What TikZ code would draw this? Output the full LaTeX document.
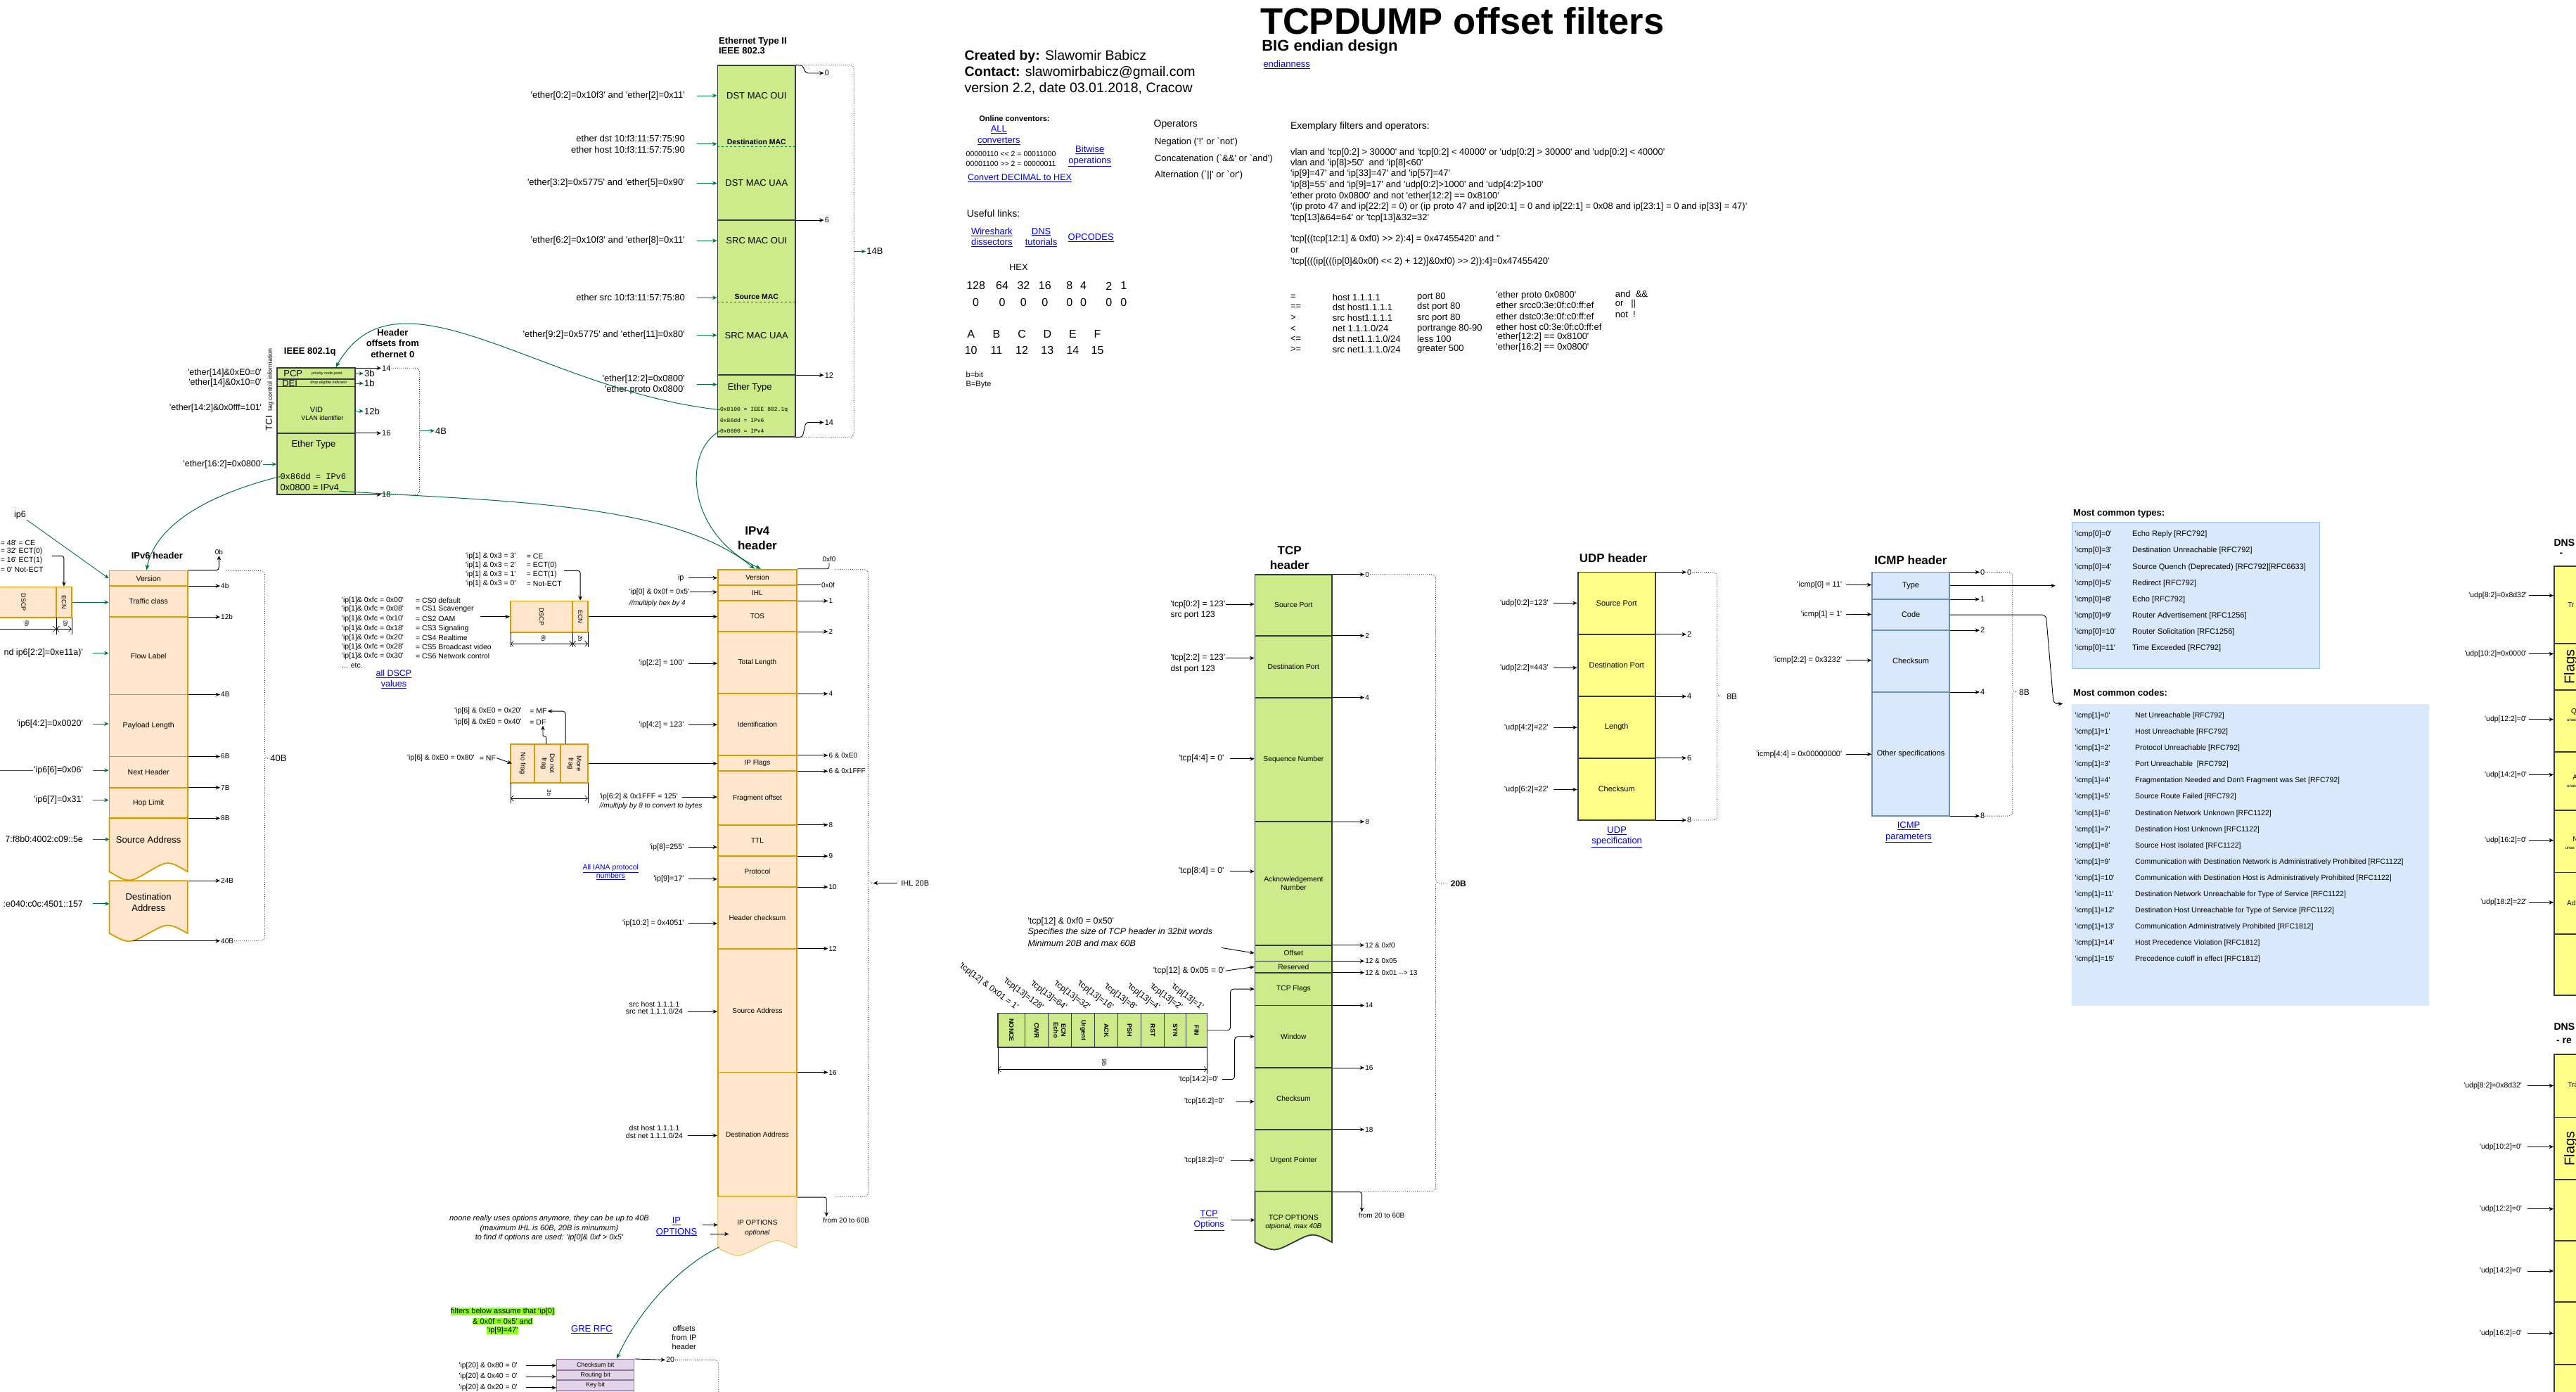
\documentclass[tikz,border=0pt]{standalone}
\usepackage{fontspec}
\setmainfont{Liberation Sans}[Ligatures=TeXOff]
\setmonofont{Liberation Mono}
\usepackage{xcolor}
\usetikzlibrary{arrows.meta, positioning, calc, fit}

% colours of the header boxes
\definecolor{grfill}{HTML}{CDEB8B}
\definecolor{orfill}{HTML}{FFE6CC}
\definecolor{ordraw}{HTML}{D79B00}
\definecolor{yefill}{HTML}{FFFF88}
\definecolor{blfill}{HTML}{DAE8FC}
\definecolor{bldraw}{HTML}{6C8EBF}
\definecolor{pufill}{HTML}{E1D5E7}
\definecolor{pudraw}{HTML}{9673A6}
\definecolor{boxedge}{HTML}{36393D}
\definecolor{garrow}{HTML}{00733A}
\definecolor{linkblue}{HTML}{0000EE}
\definecolor{hilite}{HTML}{8CFF1A}
\definecolor{listedge}{HTML}{99C2F0}

\newcommand{\fs}[1]{\fontsize{#1pt}{\the\dimexpr #1pt*6/5\relax}\selectfont}
\newcommand{\lnk}[1]{\textcolor{linkblue}{\underline{#1}}}

\begin{document}
\begin{tikzpicture}[x=2.336pt, y=-2.336pt, inner sep=1pt,
    arr/.style={-{Stealth[length=6.5pt,width=5.5pt]}, line width=0.9pt},
    garr/.style={arr, draw=garrow},
    gcurve/.style={-{Stealth[length=8pt,width=6pt]}, line width=1pt, draw=garrow},
    brace/.style={dotted, line width=0.8pt, rounded corners=6pt},
    dimline/.style={{Straight Barb[length=4pt]}-{Straight Barb[length=4pt]}, line width=0.6pt},
    grbox/.style={draw=boxedge, fill=grfill, line width=1.8pt, inner sep=0pt},
    orbox/.style={draw=ordraw, fill=orfill, line width=1.8pt, inner sep=0pt},
    yebox/.style={draw=boxedge, fill=yefill, line width=1.8pt, inner sep=0pt},
    blbox/.style={draw=bldraw, fill=blfill, line width=1.8pt, inner sep=0pt},
    pubox/.style={draw=pudraw, fill=pufill, line width=1.4pt, inner sep=0pt},
    listbox/.style={fill=blfill, draw=listedge, line width=1pt, inner sep=0pt},
    hdr/.style={font=\bfseries\fs{17}, align=center},
    off/.style={font=\fs{10.5}, anchor=west},
  ]
  \fill[white] (0,0) rectangle (1568,847);
  \useasboundingbox (0,0) rectangle (1568,847);

  % Title and author
  \node[font=\bfseries\fs{52.5}, anchor=base west, inner sep=0pt] (title) at (767,20.7) {TCPDUMP offset filters};
  \node[font=\bfseries\fs{22}, anchor=base west, inner sep=0pt] (subtitle) at (768,31) {BIG endian design};
  \node[font=\fs{13}, anchor=west] (endian) at (768.5,39.2) {\lnk{endianness}};
  \node[font=\fs{19.5}, anchor=base west, inner sep=0pt] (author) at (587,36.4) {\textbf{Created by:} Slawomir Babicz};
  \node[font=\fs{19.5}, anchor=base west, inner sep=0pt] (contact) at (587,46.4) {\textbf{Contact:} slawomirbabicz@gmail.com};
  \node[font=\fs{19.5}, anchor=base west, inner sep=0pt] (version) at (587,56.1) {version 2.2, date 03.01.2018, Cracow};

  % Converters and links
  \node[font=\bfseries\fs{11}, anchor=west] (onconv) at (595.5,72) {Online conventors:};
  \node[font=\fs{13}, align=center] (allconv) at (608,82.2) {\lnk{ALL}\\\lnk{converters}};
  \node[font=\fs{10.5}, anchor=west] (shl) at (587.5,93.8) {00000110 << 2 = 00011000};
  \node[font=\fs{10.5}, anchor=west] (shr) at (587.5,99.5) {00001100 >> 2 = 00000011};
  \node[font=\fs{13}, align=center] (bitw) at (663.4,95.2) {\lnk{Bitwise}\\\lnk{operations}};
  \node[font=\fs{12.7}, anchor=west] (dec2hex) at (588.5,108.4) {\lnk{Convert DECIMAL to HEX}};
  \node[font=\fs{14}, anchor=west] (opers) at (701.8,75.9) {Operators};
  \foreach [count=\i] \yy/\txt in {86.6/{Negation ('!' or `not')}, 96.6/{Concatenation (`\&\&' or `and')}, 106.5/{Alternation (`||' or `or')}}
    \node[font=\fs{13}, anchor=west] (oper\i) at (702.4,\yy) {\txt};
  \node[font=\fs{14}, anchor=west] (useful) at (588,129.9) {Useful links:};
  \node[font=\fs{13}, align=center] (wshark) at (603.7,144.4) {\lnk{Wireshark}\\\lnk{dissectors}};
  \node[font=\fs{13}, align=center] (dnstut) at (633.8,144.4) {\lnk{DNS}\\\lnk{tutorials}};
  \node[font=\fs{13}] (opcodes) at (664,144.8) {\lnk{OPCODES}};

  % HEX table
  \node[font=\fs{13}] (hex) at (620,162.7) {HEX};
  \foreach [count=\i] \xx/\txt in {594/128, 610/64, 623/32, 636/16, 651/8, 659.5/4, 675/2, 684/1} {
    \node[font=\fs{16}] (bit\i) at (\xx,174) {\txt};
    \node[font=\fs{16}] (zero\i) at (\xx,184) {0};
  }
  \foreach [count=\i] \xx/\txt/\val in {591/A/10, 606.5/B/11, 622/C/12, 637.5/D/13, 653/E/14, 668/F/15} {
    \node[font=\fs{16}] (hexl\i) at (\xx,203.5) {\txt};
    \node[font=\fs{16}] (hexv\i) at (\xx,213) {\val};
  }
  \node[font=\fs{11}, anchor=west] (bbit) at (587.5,228) {b=bit};
  \node[font=\fs{11}, anchor=west] (bbyte) at (587.5,234) {B=Byte};

  % Exemplary filters
  \node[font=\fs{14}, anchor=west] (exhead) at (785,76.8) {Exemplary filters and operators:};
  \foreach [count=\i] \yy/\txt in {
      93/{vlan and 'tcp[0:2] > 30000' and 'tcp[0:2] < 40000' or 'udp[0:2] > 30000' and 'udp[0:2] < 40000'},
      99.4/{vlan and 'ip[8]>50'\ \ and 'ip[8]<60'},
      106/{'ip[9]=47' and 'ip[33]=47' and 'ip[57]=47'},
      112.7/{'ip[8]=55' and 'ip[9]=17' and 'udp[0:2]>1000' and 'udp[4:2]>100'},
      119.3/{'ether proto 0x0800' and not 'ether[12:2] == 0x8100'},
      126/{'(ip proto 47 and ip[22:2] = 0) or (ip proto 47 and ip[20:1] = 0 and ip[22:1] = 0x08 and ip[23:1] = 0 and ip[33] = 47)'},
      132.6/{'tcp[13]\&64=64' or 'tcp[13]\&32=32'},
      145.5/{'tcp[((tcp[12:1] \& 0xf0) >> 2):4] = 0x47455420' and ''},
      152.4/{or},
      159.1/{'tcp[(((ip[(((ip[0]\&0x0f) << 2) + 12)]\&0xf0) >> 2)):4]=0x47455420'}}
    \node[font=\fs{13}, anchor=west] (ex\i) at (785,\yy) {\txt};
  \foreach [count=\i] \yy/\a/\b/\c/\d in {
      180.9/=/{host 1.1.1.1}/{port 80}/{'ether proto 0x0800'},
      186.9/==/{dst host1.1.1.1}/{dst port 80}/{ether srcc0:3e:0f:c0:ff:ef},
      193.5/>/{src host1.1.1.1}/{src port 80}/{ether dstc0:3e:0f:c0:ff:ef},
      200/</{net 1.1.1.0/24}/{portrange 80-90}/{ether host c0:3e:0f:c0:ff:ef},
      206.3/<=/{dst net1.1.1.0/24}/{less 100}/{'ether[12:2] == 0x8100'},
      212.6/>=/{src net1.1.1.0/24}/{greater 500}/{'ether[16:2] == 0x0800'}} {
    \node[font=\fs{13}, anchor=west] (opa\i) at (785,\yy) {\a};
    \node[font=\fs{13}, anchor=west] (opb\i) at (810.6,\yy) {\b};
    \node[font=\fs{13}, anchor=west] (opc\i) at (862.1,\yy) {\c};
    \node[font=\fs{13}, anchor=west] (opd\i) at (910.1,\yy-1) {\d};
  }
  \foreach [count=\i] \yy/\txt in {178.9/{and\ \ \&\&}, 185.2/{or\ \ \ ||}, 191.5/{not\ \ !}}
    \node[font=\fs{13}, anchor=west] (ope\i) at (982.7,\yy) {\txt};

  % Ethernet Type II
  \node[font=\bfseries\fontsize{13pt}{14pt}\selectfont, align=left, anchor=west] (ethtitle) at (437,27.6) {Ethernet Type II\\IEEE 802.3};
  \node[grbox, fit={(436.8,39.9) (484.2,134)}] (ethdst) {};
  \node[grbox, fit={(436.8,134) (484.2,228.3)}] (ethsrc) {};
  \node[grbox, fit={(436.8,228.3) (484.2,265.8)}] (ethtyp) {};
  \draw[dashed, draw=garrow, line width=0.8pt] (436.8,89.3) -- (484.2,89.3) (436.8,183.7) -- (484.2,183.7);
  \foreach \nm/\yy/\txt in {ethdo/58.2/DST MAC OUI, ethdu/111.5/DST MAC UAA, ethso/146.5/SRC MAC OUI, ethsu/204/SRC MAC UAA}
    \node[font=\fs{13}] (\nm) at (460.5,\yy) {\txt};
  \node[font=\bfseries\fs{10.5}] (ethdm) at (460.5,86.3) {Destination MAC};
  \node[font=\bfseries\fs{10.5}] (ethsm) at (460.5,180.7) {Source MAC};
  \node[font=\fs{13}] (etht) at (456.4,235.9) {Ether Type};
  \foreach [count=\i] \yy/\txt in {249.4/0x8100 = IEEE 802.1q, 255.8/0x86dd = IPv6, 262.2/0x0800 = IPv4}
    \node[font=\ttfamily\fs{8}, anchor=west, inner sep=0pt] (ethv\i) at (438.3,\yy) {\txt};
  \foreach \nm/\yy/\txt/\tgt in {
      ethl1/58.2/{'ether[0:2]=0x10f3' and 'ether[2]=0x11'}/ethdst.west,
      ethl2/87.6/{ether dst 10:f3:11:57:75:90\\ether host 10:f3:11:57:75:90}/ethdst.west,
      ethl3/111.5/{'ether[3:2]=0x5775' and 'ether[5]=0x90'}/ethdst.west,
      ethl4/146.5/{'ether[6:2]=0x10f3' and 'ether[8]=0x11'}/ethsrc.west,
      ethl5/181.2/{ether src 10:f3:11:57:75:80}/ethsrc.west,
      ethl6/204/{'ether[9:2]=0x5775' and 'ether[11]=0x80'}/ethsrc.west,
      ethl7/234/{'ether[12:2]=0x0800'\\'ether proto 0x0800'}/ethtyp.west} {
    \node[font=\fs{13}, anchor=east, align=right] (\nm) at (417.4,\yy) {\txt};
    \draw[garr] (\nm.east) ++(6.8,0) -- (\nm.east -| \tgt);
  }
  \node[off, font=\fs{11}] (etho0) at (501.5,44.5) {0};
  \draw[arr, rounded corners=3pt] (ethdst.north east) -- (488.5,39.9) -- (490.5,44.5) -- (etho0.west);
  \node[off, font=\fs{11}] (etho6) at (501.5,134) {6};
  \draw[arr] (etho6.west -| ethdst.east) -- (etho6.west);
  \node[off, font=\fs{11}] (etho12) at (501.5,228.3) {12};
  \draw[arr] (etho12.west -| ethdst.east) -- (etho12.west);
  \node[off, font=\fs{11}] (etho14) at (501.5,257.1) {14};
  \draw[arr, rounded corners=3pt] (ethtyp.south east) -- (488.5,265.8) -- (490.5,257.1) -- (etho14.west);
  \draw[brace] (ethdst.north east) -| (519.8,153);
  \draw[brace] (ethtyp.south east) -| (519.8,153);
  \coordinate (ethmid) at (519.8,153);
  \node[font=\fs{13}, anchor=west] (eth14b) at (527,153) {14B};
  \draw[garr] (ethmid) -- (eth14b.west);

  % IEEE 802.1q
  \node[font=\bfseries\fs{13}] (q1title) at (188.7,214) {IEEE 802.1q};
  \node[grbox, fit={(168.7,224) (216.1,230.6)}] (q1pcp) {};
  \node[grbox, fit={(168.7,230.6) (216.1,235.2)}] (q1dei) {};
  \node[grbox, fit={(168.7,235.2) (216.1,263.6)}] (q1vid) {};
  \node[grbox, fit={(168.7,263.6) (216.1,301)}] (q1typ) {};
  \node[font=\fs{13}, inner sep=0pt] (q1pcpt) at (178.4,227.4) {PCP};
  \node[font=\fs{5.5}, inner sep=0pt] (q1pcps) at (199,227.3) {priority code point};
  \node[font=\fs{13}, inner sep=0pt] (q1deit) at (176.4,233.4) {DEI};
  \node[font=\itshape\fs{5.5}, inner sep=0pt] (q1deis) at (200.1,233) {drop eligible indicator};
  \node[font=\fs{11}] (q1vidt) at (192.6,249.5) {VID};
  \node[font=\fs{9}] (q1vids) at (196.2,254.2) {VLAN identifier};
  \node[font=\fs{13}] (q1typt) at (190.9,270.4) {Ether Type};
  \node[font=\ttfamily\fs{12}, anchor=west, inner sep=0pt] (q1ip6) at (170.5,290) {0x86dd = IPv6};
  \node[font=\fs{13}, anchor=west, inner sep=0pt] (q1ip4) at (170.5,296.8) {0x0800 = IPv4};
  \node[rotate=90, font=\fs{13}] (q1tci) at (164.1,237) {TCI\ \ {\fs{9}tag control information}};
  \foreach \nm/\yy/\txt in {q1l1/226.9/{'ether[14]\&0xE0=0'}, q1l2/233/{'ether[14]\&0x10=0'}, q1l3/248.3/{'ether[14:2]\&0x0fff=101'}}
    \node[font=\fs{12.5}, anchor=east] (\nm) at (159.8,\yy) {\txt};
  \node[font=\fs{12.5}, anchor=east] (q1l4) at (160.3,282.5) {'ether[16:2]=0x0800'};
  \draw[garr] (q1l4.east) -- (q1l4.east -| q1typ.west);
  \foreach \nm/\src/\txt/\yy in {q1o3/q1pcp/3b/227.3, q1o1/q1dei/1b/233.3, q1o12/q1vid/12b/250.2} {
    \node[off, font=\fs{13}] (\nm) at (221.3,\yy) {\txt};
    \draw[garr] (\nm.west -| \src.east) -- (\nm.west);
  }
  \foreach \nm/\yy/\txt in {q1o14/224/14, q1o16/263.6/16, q1o18/301/18} {
    \node[off, font=\fs{11}] (\nm) at (232,\yy) {\txt};
    \draw[arr] (\nm.west -| q1pcp.east) -- (\nm.west);
  }
  \draw[brace] (q1o14.east) -| (255.4,262.2);
  \draw[brace] (q1o18.east) -| (255.4,262.2);
  \coordinate (q1mid) at (255.4,262.2);
  \node[font=\fs{13}, anchor=west] (q14b) at (264.5,262.2) {4B};
  \draw[garr] (q1mid) -- (q14b.west);
  \node[font=\bfseries\fs{13}, align=center] (q1hdr) at (239,209) {Header\\offsets from\\ethernet 0};

  % IPv6 header
  \node[font=\bfseries\fs{13}] (v6title) at (95.6,338.3) {IPv6 header};
  \foreach \nm/\ya/\yb/\txt in {v6ver/347.4/356.6/Version, v6tc/356.6/375.5/Traffic class,
      v6fl/375.5/422.7/Flow Label, v6pl/422.7/460.4/Payload Length,
      v6nh/460.4/479.3/Next Header, v6hl/479.3/498/Hop Limit} {
    \node[orbox, fit={(66.6,\ya) (114.2,\yb)}] (\nm) {};
    \node[font=\fs{10.5}] (\nm-t) at (\nm.center) {\txt};
  }
  \draw[orbox] (66.6,498) -- (114.2,498) -- (114.2,530.5) .. controls (102.3,523.5) .. (90.4,530.5) .. controls (78.5,537.5) .. (66.6,530.5) -- cycle;
  \node[font=\fs{13}] (v6src) at (90.4,511.2) {Source Address};
  \coordinate (v6srcw) at (66.6,510.8);
  \draw[orbox] (66.6,536) -- (114.2,536) -- (114.2,568) .. controls (102.3,561.5) .. (90.4,568) .. controls (78.5,574.5) .. (66.6,568) -- cycle;
  \node[font=\fs{13}, align=center] (v6dst) at (90.4,549.1) {Destination\\Address};
  \coordinate (v6dstw) at (66.6,550);
  \node[font=\fs{10}] (v6o0) at (133.3,336) {0b};
  \draw[arr, rounded corners=4pt] (v6ver.north east) -| (v6o0.south);
  \foreach \nm/\yy/\txt in {v6o4/356.6/4b, v6o12/375.5/12b, v6oB4/422.7/4B, v6o6/460.4/6B, v6o7/479.3/7B, v6o8/498/8B, v6o24/536/24B} {
    \node[off, font=\fs{10}] (\nm) at (134,\yy) {\txt};
    \draw[arr] (\nm.west -| v6ver.east) -- (\nm.west);
  }
  \coordinate (v6bot) at (80.7,572.6);
  \node[off, font=\fs{10}] (v6o40) at (134,572.6) {40B};
  \draw[arr] (v6bot) -- (v6o40.west);
  \draw[brace] (138,347.4) -| (161.2,461.6) -- (163.5,461.6);
  \draw[brace] (v6o40.east) -| (161.2,461.6);
  \node[font=\fs{13}, anchor=west] (v6len) at (164,461.6) {40B};
  \foreach \nm/\yy/\txt/\tgt in {v6l1/397.5/{nd ip6[2:2]=0xe11a)'}/v6fl.west, v6l2/440.5/{'ip6[4:2]=0x0020'}/v6pl.west,
      v6l3/468.8/{'ip6[6]=0x06'}/v6nh.west, v6l4/486.9/{'ip6[7]=0x31'}/v6hl.west,
      v6l5/510.8/{7:f8b0:4002:c09::5e}/v6srcw, v6l6/550/{:e040:c0c:4501::157}/v6dstw} {
    \node[font=\fs{12.5}, anchor=east] (\nm) at (51,\yy) {\txt};
    \draw[garr] (\nm.east) ++(5.5,0) -- (\nm.east -| \tgt);
  }
  \coordinate (v6nhfree) at (-3,468.8);
  \draw[draw=garrow, line width=0.9pt] (v6nhfree) -- (v6l3.west);
  \node[font=\fs{12.5}] (v6ip6) at (12.2,313.4) {ip6};
  \draw[garr] (v6ip6.south east) -- (v6ver.west);
  \foreach [count=\i] \yy/\txt in {330.2/{= 48' = CE}, 335.6/{= 32' ECT(0)}, 341.1/{= 16' ECT(1)}, 346.7/{= 0' Not-ECT}}
    \node[font=\fs{10.5}, anchor=west, inner sep=0pt] (v6ecn\i) at (0.3,\yy) {\txt};
  \coordinate (v6ecnarr) at (31.7,338.3);
  \node[orbox, fit={(-4,357.2) (34.2,375.8)}] (v6dscp) {};
  \node[orbox, fit={(34.2,357.2) (43.6,375.8)}] (v6ecnb) {};
  \node[rotate=-90, font=\fs{9}] (v6dscpt) at (14.3,366.5) {DSCP};
  \node[rotate=-90, font=\fs{9}] (v6ecnt) at (v6ecnb.center) {ECN};
  \draw[arr, rounded corners=3pt] (v6ecnarr) -| (v6ecnb.north);
  \draw[garr] (v6ecnb.east) -- (v6ecnb.east -| v6tc.west);
  \draw[line width=0.6pt] (34.2,375.8) -- (34.2,386) (43.6,375.8) -- (43.6,386);
  \draw[dimline] (-4,382.8) -- (34.2,382.8);
  \draw[dimline] (34.2,382.8) -- (43.6,382.8);
  \node[rotate=-90, font=\fs{8}] (v6d6) at (16.4,379.5) {6b};
  \node[rotate=-90, font=\fs{8}] (v6d2) at (40,379.5) {2b};

  % IPv4 header
  \node[hdr] (v4title) at (461,327.5) {IPv4\\header};
  \foreach \nm/\ya/\yb/\txt in {v4ver/346.6/356.1/Version, v4ihl/356.1/365.7/IHL, v4tos/365.7/384.4/TOS,
      v4len/384.4/422.2/Total Length, v4id/422.2/459.7/Identification, v4flg/459.7/469.3/IP Flags,
      v4frag/469.3/502/Fragment offset, v4ttl/502/521/TTL, v4pro/521/539.8/Protocol,
      v4chk/539.8/577.3/Header checksum, v4src/577.3/652.6/Source Address, v4dst/652.6/728.2/Destination Address} {
    \node[orbox, fit={(437,\ya) (485,\yb)}] (\nm) {};
    \node[font=\fs{10}] (\nm-t) at (\nm.center) {\txt};
  }
  \draw[draw=ordraw!70, fill=orfill, line width=0.8pt] (437,728.2) -- (485,728.2) -- (485,759.5) .. controls (473,753.5) .. (461,759.5) .. controls (449,765.5) .. (437,759.5) -- cycle;
  \node[font=\fs{10}] (v4optt) at (461,743.9) {IP OPTIONS};
  \node[font=\itshape\fs{10}, inner sep=0pt] (v4opti) at (461,750.4) {optional};
  \coordinate (v4optw) at (437,745.4);
  \coordinate (v4optin) at (443.7,751);
  \coordinate (v4optsw) at (437.8,758.9);
  % IPv4 offsets
  \node[font=\fs{10}] (v4of0) at (504.7,340.4) {0xf0};
  \draw[rounded corners=3pt, line width=0.8pt] (v4ver.north east) -| (v4of0.south);
  \node[off, font=\fs{10}] (v4o0f) at (499.5,356.1) {0x0f};
  \draw[line width=0.8pt] (v4o0f.west -| v4ver.east) -- (v4o0f.west);
  \foreach \nm/\yy/\txt in {v4o1/365.7/1, v4o2/384.4/2, v4o4/422.2/4, v4o6/459.7/{6 \& 0xE0}, v4o6b/469.3/{6 \& 0x1FFF},
      v4o8/502/8, v4o9/521/9, v4o10/539.8/10, v4o12/577.3/12, v4o16/652.6/16} {
    \node[off, font=\fs{10}] (\nm) at (504,\yy) {\txt};
    \draw[arr] (\nm.west -| v4ver.east) -- (\nm.west);
  }
  \draw[brace] (508,346.6) -| (528.6,537.4) -- (531,537.4);
  \draw[brace] (508,728.2) -| (528.6,537.4);
  \coordinate (v4brace) at (531.5,537.4);
  \node[font=\fs{11}, anchor=west] (v4ihl20) at (548,537.4) {IHL 20B};
  \draw[arr] (v4ihl20.west) ++(-2,0) -- (v4brace);
  \node[off, font=\fs{10}] (v4from) at (500.5,742.5) {from 20 to 60B};
  \draw[arr, rounded corners=3pt] (v4dst.south east) -| ([xshift=6pt]v4from.north west);
  % IPv4 annotations
  \foreach \nm/\yy/\txt/\tgt in {v4l1/351.7/ip/v4ver.west, v4l3/403.7/{'ip[2:2] = 100'}/v4len.west,
      v4l4/441/{'ip[4:2] = 123'}/v4id.west, v4l6/515.5/{'ip[8]=255'}/v4ttl.west,
      v4l7/535/{'ip[9]=17'}/v4pro.west, v4l8/562/{'ip[10:2] = 0x4051'}/v4chk.west} {
    \node[font=\fs{10.8}, anchor=east] (\nm) at (416.8,\yy) {\txt};
    \draw[arr] (\nm.east) ++(2.3,0) -- (\nm.east -| \tgt);
  }
  \node[font=\fs{10.5}, anchor=west] (v4l2) at (382.5,360.3) {'ip[0] \& 0x0f = 0x5'};
  \draw[arr] (v4l2.east) -- (v4l2.east -| v4ihl.west);
  \node[font=\itshape\fs{10}, anchor=west] (v4l2b) at (382.5,367.1) {//multiply hex by 4};
  \node[font=\fs{10.5}, anchor=west] (v4l5) at (364.5,485) {'ip[6:2] \& 0x1FFF = 125'};
  \draw[arr] (v4l5.east) ++(2,0) -- (v4l5.east -| v4frag.west);
  \node[font=\itshape\fs{10}, anchor=west] (v4l5b) at (364.5,490.7) {//multiply by 8 to convert to bytes};
  \node[font=\fs{10.5}, anchor=east] (v4l9) at (416.2,615.6) {src net 1.1.1.0/24};
  \node[font=\fs{10.5}, above=0pt of v4l9] (v4l9a) {src host 1.1.1.1};
  \draw[arr] (v4l9.east) ++(2.5,0) -- (v4l9.east -| v4src.west);
  \node[font=\fs{10.5}, anchor=east] (v4l10) at (416.2,691) {dst net 1.1.1.0/24};
  \node[font=\fs{10.5}, above=0pt of v4l10] (v4l10a) {dst host 1.1.1.1};
  \draw[arr] (v4l10.east) ++(2.5,0) -- (v4l10.east -| v4dst.west);
  \node[font=\fs{10.5}, align=center] (v4iana) at (371.7,530.7) {\lnk{All IANA protocol}\\\lnk{numbers}};
  \node[font=\itshape\fs{11}, align=center] (v4note) at (334.3,747.5) {noone really uses options anymore, they can be up to 40B\\(maximum IHL is 60B, 20B is minumum)\\to find if options are used: 'ip[0]\& 0xf > 0x5'};
  \node[font=\fs{13}, align=center] (v4optl) at (411.8,746.5) {\lnk{IP}\\\lnk{OPTIONS}};
  \draw[arr] (v4optl.east |- v4optw) ++(3,0) -- (v4optw);
  \draw[arr] (v4optl.east |- v4optin) ++(7.7,0) -- (v4optin);

  % TOS detail: DSCP and ECN
  \node[orbox, fit={(310.7,365.8) (348.5,384.8)}] (dscpbox) {};
  \node[orbox, fit={(348.5,365.8) (357.9,384.8)}] (ecnbox) {};
  \node[rotate=-90, font=\fs{9}] (dscpt) at (dscpbox.center) {DSCP};
  \node[rotate=-90, font=\fs{9}] (ecnt) at (ecnbox.center) {ECN};
  \draw[arr] (ecnbox.east) -- (ecnbox.east -| v4tos.west);
  \draw[line width=0.6pt] (310.7,384.8) -- (310.7,394) (348.5,384.8) -- (348.5,394) (357.9,384.8) -- (357.9,394);
  \draw[dimline] (310.7,391.8) -- (348.5,391.8);
  \draw[dimline] (348.5,391.8) -- (357.9,391.8);
  \node[rotate=-90, font=\fs{8}] (dscpd6) at (330.9,388.6) {6b};
  \node[rotate=-90, font=\fs{8}] (dscpd2) at (353.2,388.6) {2b};
  \foreach [count=\i] \yy/\v/\txt in {338.6/3/CE, 344.1/2/ECT(0), 349.6/1/ECT(1), 355.1/0/Not-ECT} {
    \node[font=\fs{10.5}, anchor=west, inner sep=0pt] (ecna\i) at (283.3,\yy) {'ip[1] \& 0x3 = \v'};
    \node[font=\fs{10.5}, anchor=west, inner sep=0pt] (ecnb\i) at (320.5,\yy) {= \txt};
  }
  \coordinate (ecnarr) at (343.4,347.3);
  \draw[arr, rounded corners=3pt] (ecnarr) -| (ecnbox.north);
  \foreach [count=\i] \yy/\v/\txt in {365.3/00/CS0 default, 370.8/08/CS1 Scavenger, 376.7/10/CS2 OAM,
      382.4/18/CS3 Signaling, 388/20/CS4 Realtime, 393.6/28/CS5 Broadcast video, 399.1/30/CS6 Network control} {
    \node[font=\fs{10.5}, anchor=west, inner sep=0pt] (dscpa\i) at (208,\yy) {'ip[1]\& 0xfc = 0x\v'};
    \node[font=\fs{10.5}, anchor=west, inner sep=0pt] (dscpb\i) at (252.9,\yy) {= \txt};
  }
  \node[font=\fs{10.5}, anchor=west, inner sep=0pt] (dscpetc) at (208,405.2) {... etc.};
  \node[font=\fs{12.5}, align=center] (dscplnk) at (239.7,413.2) {\lnk{all DSCP}\\\lnk{values}};
  \coordinate (dscparr) at (292.2,375.3);
  \draw[arr] (dscparr) -- (dscpbox.west);

  % IP flags detail
  \foreach \nm/\xa/\xb/\txt in {fnf/310.7/325.4/No frag, fdf/325.4/341.2/{Do not\\frag}, fmf/341.2/357.9/{More\\frag}} {
    \node[orbox, fit={(\xa,453) (\xb,476.3)}] (\nm) {};
    \node[rotate=-90, font=\fs{9.5}, align=center] (\nm-t) at (\nm.center) {\txt};
  }
  \draw[arr] (fmf.east) -- (fmf.east -| v4flg.west);
  \draw[line width=0.6pt] (310.7,476.3) -- (310.7,489) (357.9,476.3) -- (357.9,489);
  \draw[dimline] (310.7,485.8) -- (357.9,485.8);
  \node[rotate=-90, font=\fs{8}] (flagd3) at (334.3,482.5) {3b};
  \node[font=\fs{10.5}, anchor=west] (fl1a) at (276.1,432.8) {'ip[6] \& 0xE0 = 0x20'};
  \node[font=\fs{10.5}, anchor=west] (fl1) at (322,432.8) {= MF};
  \node[font=\fs{10.5}, anchor=west] (fl2a) at (276.1,439.6) {'ip[6] \& 0xE0 = 0x40'};
  \node[font=\fs{10.5}, anchor=west] (fl2) at (322,439.6) {= DF};
  \node[font=\fs{10.5}, anchor=west] (fl3a) at (247.4,461.3) {'ip[6] \& 0xE0 = 0x80'};
  \node[font=\fs{10.5}, anchor=west] (fl3) at (291.4,461.3) {= NF};
  \draw[arr, rounded corners=4pt] ([xshift=-12.5pt]fmf.north) |- (fl1.east);
  \draw[arr, rounded corners=2pt] ([xshift=-2pt]fdf.north) -- ++(0,-4.5) -- ++(-2,0) -- ++(0,-6.5);
  \draw[arr] (fl3.east) -- ([xshift=3pt]fnf.west);

  % GRE
  \foreach [count=\i] \yy/\txt in {798/{filters below assume that 'ip[0]}, 804.2/{\& 0x0f = 0x5' and}, 809.7/{'ip[9]=47'}}
    \node[font=\fs{11}, fill=hilite, inner sep=0.6pt] (grenote\i) at (305.9,\yy) {\txt};
  \node[font=\fs{13}] (grerfc) at (360.2,809) {\lnk{GRE RFC}};
  \node[font=\fs{11}, align=center] (greoff) at (416.4,814.1) {offsets\\from IP\\header};
  \foreach \nm/\ya/\yb/\txt in {grechk/827.3/833.9/Checksum bit, grerout/833.9/839.9/Routing bit, grekey/839.9/846.1/Key bit, grerest/846.1/853/{}} {
    \node[pubox, fit={(338.9,\ya) (386,\yb)}] (\nm) {};
    \node[font=\fs{8.8}] (\nm-t) at (\nm.center) {\txt};
  }
  \foreach \nm/\yy/\txt/\tgt in {grel1/831/{'ip[20] \& 0x80 = 0'}/grechk, grel2/837.8/{'ip[20] \& 0x40 = 0'}/grerout, grel3/844.5/{'ip[20] \& 0x20 = 0'}/grekey} {
    \node[font=\fs{10.5}, anchor=east] (\nm) at (315.4,\yy) {\txt};
    \draw[arr] (\nm.east) ++(4.9,0) -- (\nm.east -| \tgt.west);
  }
  \node[off] (greo20) at (405,827.6) {20};
  \draw[arr] (grechk.north east) -- (greo20.west);
  \draw[brace] (greo20.east) -| (437.4,860);
  \draw[gcurve] (v4optsw) .. controls (415,770) and (390,795) .. ([xshift=30pt]grechk.north);

  % green connectors between headers
  \draw[gcurve] (ethv1.west) .. controls (330,238) and (242,157) .. ([xshift=28pt]q1pcp.north);
  \draw[gcurve] (ethv3.west) .. controls (415,275) and (418,325) .. ([xshift=5pt]v4ver.north);
  \draw[gcurve] (q1ip4.south east) .. controls (300,305) and (410,305) .. ([xshift=-4pt]v4ver.north);
  \draw[gcurve] (q1ip6.west) .. controls (130,300) and (95,318) .. ([xshift=-3pt]v6ver.north);

  % TCP header
  \node[hdr] (tcptitle) at (784.9,339.5) {TCP\\header};
  \foreach \nm/\ya/\yb/\txt in {tcpsp/349.6/386.9/Source Port, tcpdp/386.9/424.5/Destination Port,
      tcpseq/424.5/500/Sequence Number, tcpack/500/575.2/{Acknowledgement\\Number}, tcpoff/575.2/584.9/Offset,
      tcpres/584.9/591.9/Reserved, tcpflg/591.9/611.9/TCP Flags, tcpwin/611.9/649.8/Window,
      tcpchk/649.8/687.4/Checksum, tcpurg/687.4/725/Urgent Pointer} {
    \node[grbox, fit={(763.9,\ya) (810.8,\yb)}] (\nm) {};
    \node[font=\fs{10.3}, align=center, inner sep=0pt] (\nm-t) at (\nm.center) {\txt};
  }
  \draw[grbox] (763.9,725) -- (810.8,725) -- (810.8,756) .. controls (799.1,750) .. (787.35,756) .. controls (775.6,762) .. (763.9,756) -- cycle;
  \node[font=\fs{10.5}] (tcpoptt) at (787.35,740.9) {TCP OPTIONS};
  \node[font=\itshape\fs{10}, inner sep=0pt] (tcpopti) at (787.35,746.7) {otpional, max 40B};
  \coordinate (tcpoptw) at (763.9,742.5);
  \foreach \nm/\yy/\txt in {tcpo0/349.6/0, tcpo2/386.9/2, tcpo4/424.5/4, tcpo8/500/8, tcpo12a/575.2/{12 \& 0xf0},
      tcpo12b/584.9/{12 \& 0x05}, tcpo12c/591.9/{12 \& 0x01 --> 13}, tcpo14/611.9/14, tcpo16/649.8/16, tcpo18/687.4/18} {
    \node[off, font=\fs{10}] (\nm) at (830.5,\yy) {\txt};
    \draw[arr] (\nm.west -| tcpsp.east) -- (\nm.west);
  }
  \draw[brace] (tcpo0.east) -| (873.9,537.6) -- (881,537.6);
  \coordinate (tcpbrb) at (829,725);
  \draw[brace] (tcpbrb) -| (873.9,537.6);
  \node[font=\bfseries\fs{12}, anchor=west] (tcp20b) at (882.5,537.6) {20B};
  \node[off, font=\fs{10}] (tcpfrom) at (826.4,739.7) {from 20 to 60B};
  \draw[arr, rounded corners=3pt] (tcpurg.south east) -| ([xshift=6pt]tcpfrom.north west);
  % TCP annotations
  \foreach \nm/\yy/\txt/\sub/\tgt in {tcpl1/367.7/{'tcp[0:2] = 123'}/{src port 123}/tcpsp, tcpl2/400.5/{'tcp[2:2] = 123'}/{dst port 123}/tcpdp} {
    \node[font=\fs{12}, anchor=west] (\nm) at (712,\yy) {\txt};
    \node[font=\fs{12}, anchor=west] (\nm b) at (712,\yy+6.7) {\sub};
    \draw[arr] (\nm.east) -- (\nm.east -| \tgt.west);
  }
  \foreach \nm/\yy/\txt/\tgt in {tcpl3/461.8/{'tcp[4:4] = 0'}/tcpseq, tcpl4/530.3/{'tcp[8:4] = 0'}/tcpack} {
    \node[font=\fs{12}, anchor=east] (\nm) at (745.5,\yy) {\txt};
    \draw[arr] (\nm.east) ++(3,0) -- (\nm.east -| \tgt.west);
  }
  \node[font=\fs{12.5}, anchor=west] (tcpn1) at (625.1,560.7) {'tcp[12] \& 0xf0 = 0x50'};
  \node[font=\itshape\fs{12.5}, anchor=west] (tcpn2) at (625.1,567.3) {Specifies the size of TCP header in 32bit words};
  \node[font=\itshape\fs{12.5}, anchor=west] (tcpn3) at (625.1,574.1) {Minimum 20B and max 60B};
  \coordinate (tcpnote) at (743.6,576.8);
  \draw[arr] (tcpnote) -- (tcpoff.west);
  \node[font=\fs{12}, anchor=east] (tcpl5) at (746,590.8) {'tcp[12] \& 0x05 = 0'};
  \draw[arr] (tcpl5.east) -- (tcpres.west);
  \foreach \nm/\yy/\txt/\tgt/\gap in {tcpl7/670.4/{'tcp[16:2]=0'}/tcpchk/7, tcpl8/706/{'tcp[18:2]=0'}/tcpurg/3.5} {
    \node[font=\fs{10.5}, anchor=east] (\nm) at (745.5,\yy) {\txt};
    \draw[arr] (\nm.east) ++(\gap,0) -- (\nm.east -| \tgt.west);
  }
  \node[font=\fs{10.5}, anchor=east] (tcpl6) at (742,656.9) {'tcp[14:2]=0'};
  \draw[arr, rounded corners=4pt] (tcpl6.east) ++(2,0) -| ([xshift=-28pt]tcpwin.west) -- (tcpwin.west);
  \node[font=\fs{12.5}, align=center] (tcpoptl) at (735.9,742.8) {\lnk{TCP}\\\lnk{Options}};
  \draw[arr] (tcpoptl.east |- tcpoptw) ++(4,0) -- (tcpoptw);
  % TCP flags detail
  \foreach \nm/\xa/\xb/\txt/\lab in {tnonce/607.4/623.8/NONCE/{'tcp[12] \& 0x01 = 1'}, tcwr/623.8/638/CWR/{'tcp[13]=128'},
      tece/638/652.1/{ECN\\Echo}/{'tcp[13]=64'}, turg/652.1/666.4/Urgent/{'tcp[13]=32'}, tack/666.4/680.5/ACK/{'tcp[13]=16'},
      tpsh/680.5/694.6/PSH/{'tcp[13]=8'}, trst/694.6/708.7/RST/{'tcp[13]=4'}, tsyn/708.7/722/SYN/{'tcp[13]=2'},
      tfin/722/734.7/FIN/{'tcp[13]=1'}} {
    \node[grbox, line width=1.4pt, fit={(\xa,616.7) (\xb,637.3)}] (\nm) {};
    \node[rotate=-90, font=\bfseries\fs{9}, align=center, inner sep=0pt] (\nm-t) at (\nm.center) {\txt};
    \node[rotate=-37, anchor=south east, font=\fs{12}, inner sep=0pt] (\nm-l) at ([xshift=5pt,yshift=2pt]\nm.north) {\lab};
  }
  \draw[arr, rounded corners=4pt] (tfin.east) -| ([xshift=-34pt]tcpflg.west) -- (tcpflg.west);
  \draw[line width=0.6pt] (607.4,637.3) -- (607.4,653.5) (734.7,637.3) -- (734.7,653.5);
  \draw[dimline] (607.4,650.7) -- (734.7,650.7);
  \node[rotate=-90, font=\fs{9}] (tflagd9) at (672.2,646.5) {9b};

  % UDP header
  \node[font=\bfseries\fs{17}] (udptitle) at (982,339.6) {UDP header};
  \foreach \nm/\ya/\yb/\txt/\lab/\ly/\onm/\otxt in {udpsp/348.2/386/Source Port/{'udp[0:2]=123'}/367/udpo0/0,
      udpdp/386/423.8/Destination Port/{'udp[2:2]=443'}/406.4/udpo2/2,
      udplen/423.8/461.3/Length/{'udp[4:2]=22'}/442.7/udpo4/4,
      udpchk/461.3/499.1/Checksum/{'udp[6:2]=22'}/480.5/udpo6/6} {
    \node[yebox, fit={(960.4,\ya) (1007.6,\yb)}] (\nm) {};
    \node[font=\fs{11}] (\nm-t) at (\nm.center) {\txt};
    \node[font=\fs{11}, anchor=east] (\nm-l) at (943,\ly) {\lab};
    \draw[arr] (\nm-l.east) ++(2.5,0) -- (\nm-l.east -| \nm.west);
    \node[off, font=\fs{11}] (\onm) at (1026.5,\ya) {\otxt};
    \draw[arr] (\onm.west -| \nm.east) -- (\onm.west);
  }
  \node[off, font=\fs{11}] (udpo8) at (1026.5,499.1) {8};
  \draw[arr] (udpo8.west -| udpchk.east) -- (udpo8.west);
  \draw[brace] (udpo0.east) -| (1045.2,423.8) -- (1048,423.8);
  \draw[brace] (udpo8.east) -| (1045.2,423.8);
  \node[font=\fs{12}, anchor=west] (udp8b) at (1050.5,423.8) {8B};
  \node[font=\fs{13}, align=center] (udplnk) at (984.2,509.4) {\lnk{UDP}\\\lnk{specification}};

  % ICMP header
  \node[font=\bfseries\fs{17}] (icmptitle) at (1163,341) {ICMP header};
  \foreach \nm/\ya/\yb/\txt/\lab/\ly/\onm/\otxt in {ictyp/348.2/364.7/Type/{'icmp[0] = 11'}/355.9/icmo0/0,
      iccode/364.7/383.6/Code/{'icmp[1] = 1'}/373.9/icmo1/1,
      icchk/383.6/421.2/Checksum/{'icmp[2:2] = 0x3232'}/401.9/icmo2/2,
      icoth/421.2/496.6/Other specifications/{'icmp[4:4] = 0x00000000'}/459/icmo4/4} {
    \node[blbox, fit={(1139.6,\ya) (1186.6,\yb)}] (\nm) {};
    \node[font=\fs{11}] (\nm-t) at (\nm.center) {\txt};
    \node[font=\fs{11}, anchor=east] (\nm-l) at (1121.7,\ly) {\lab};
    \draw[arr] (\nm-l.east) ++(2,0) -- (\nm-l.east -| \nm.west);
    \node[off, font=\fs{11}] (\onm) at (1205,\ya) {\otxt};
    \draw[arr] (\onm.west -| \nm.east) -- (\onm.west);
  }
  \node[off, font=\fs{11}] (icmo8) at (1205,496.6) {8};
  \draw[arr] (icmo8.west -| icoth.east) -- (icmo8.west);
  \draw[brace] (icmo0.east) -| (1225,421.2) -- (1227,421.2);
  \draw[brace] (icmo8.east) -| (1225,421.2);
  \node[font=\fs{12}, anchor=west] (icmp8b) at (1228.5,421.2) {8B};
  \node[font=\fs{13}, align=center] (icmplnk) at (1161.8,506.4) {\lnk{ICMP}\\\lnk{parameters}};

  % ICMP types and codes
  \node[font=\bfseries\fs{13}, anchor=west] (ictyhead) at (1261.5,312.5) {Most common types:};
  \node[listbox, fit={(1261.2,318) (1412,407)}] (ictypes) {};
  \foreach [count=\i] \v/\txt in {0/{Echo Reply [RFC792]}, 3/{Destination Unreachable [RFC792]},
      4/{Source Quench (Deprecated) [RFC792][RFC6633]}, 5/{Redirect [RFC792]}, 8/{Echo [RFC792]},
      9/{Router Advertisement [RFC1256]}, 10/{Router Solicitation [RFC1256]}, 11/{Time Exceeded [RFC792]}} {
    \node[font=\fs{11}, anchor=west, inner sep=0pt] (icta\i) at (1262.9,{325.3+9.9*(\i-1)}) {'icmp[0]=\v'};
    \node[font=\fs{11}, anchor=west, inner sep=0pt] (ictb\i) at (1297.8,{325.3+9.9*(\i-1)}) {\txt};
  }
  \node[font=\bfseries\fs{13}, anchor=west] (iccohead) at (1261.5,421.7) {Most common codes:};
  \node[fill=blfill, inner sep=0pt, fit={(1261.2,428.4) (1478.6,612.2)}] (iccodes) {};
  \foreach [count=\i from 0] \txt in {{Net Unreachable [RFC792]}, {Host Unreachable [RFC792]}, {Protocol Unreachable [RFC792]},
      {Port Unreachable\ \ [RFC792]}, {Fragmentation Needed and Don't Fragment was Set [RFC792]}, {Source Route Failed [RFC792]},
      {Destination Network Unknown [RFC1122]}, {Destination Host Unknown [RFC1122]}, {Source Host Isolated [RFC1122]},
      {Communication with Destination Network is Administratively Prohibited [RFC1122]},
      {Communication with Destination Host is Administratively Prohibited [RFC1122]},
      {Destination Network Unreachable for Type of Service [RFC1122]},
      {Destination Host Unreachable for Type of Service [RFC1122]},
      {Communication Administratively Prohibited [RFC1812]}, {Host Precedence Violation [RFC1812]},
      {Precedence cutoff in effect [RFC1812]}} {
    \node[font=\fs{10.5}, anchor=west, inner sep=0pt] (icca\i) at (1263,{435.7+9.88*\i}) {'icmp[1]=\i'};
    \node[font=\fs{10.5}, anchor=west, inner sep=0pt] (iccb\i) at (1299.6,{435.7+9.88*\i}) {\txt};
  }
  \draw[arr, shorten >=23pt] (ictyp.east) -- (ictyp.east -| ictypes.west);
  \draw[arr, rounded corners=6pt] (iccode.east) -- ++(58.4,0) -- ([xshift=-26pt]iccodes.north west) -- ([xshift=-13pt]iccodes.north west);

  % DNS headers at the right edge
  \node[font=\bfseries\fs{14}, anchor=west] (dns1title) at (1554,330.3) {DNS};
  \node[font=\bfseries\fs{14}, anchor=west] (dns1sub) at (1557.5,337.5) {-};
  \foreach [count=\i] \ya/\yb in {344.5/391.8, 391.8/419.8, 419.8/457.7, 457.7/493.2, 493.2/531, 531/568.5, 568.5/605.7}
    \node[yebox, fit={(1554.7,\ya) (1600,\yb)}] (dnsa\i) {};
  \node[font=\fs{10}, anchor=west] (dnsatr) at (1562.5,368) {Tr};
  \node[font=\fs{20}, rotate=90] (dnsafl) at (1564.8,405.8) {Flags};
  \node[font=\fs{10}, anchor=west] (dnsaq) at (1564.5,433) {Q};
  \node[font=\fs{6}, anchor=west] (dnsaqs) at (1562,438.5) {unas};
  \node[font=\fs{10}, anchor=west] (dnsaa) at (1565.5,473) {A};
  \node[font=\fs{6}, anchor=west] (dnsaas) at (1562,478.5) {unas};
  \node[font=\fs{10}, anchor=west] (dnsan) at (1565.5,510.5) {N};
  \node[font=\fs{6}, anchor=west] (dnsans) at (1561,516) {unas};
  \node[font=\fs{10}, anchor=west] (dnsaad) at (1562,549.5) {Ad};
  \foreach [count=\i] \yy/\txt in {362.4/{'udp[8:2]=0x8d32'}, 397.9/{'udp[10:2]=0x0000'}, 437.8/{'udp[12:2]=0'},
      471.5/{'udp[14:2]=0'}, 511.4/{'udp[16:2]=0'}, 549.2/{'udp[18:2]=22'}} {
    \node[font=\fs{10.5}, anchor=east] (dnsal\i) at (1538.5,\yy) {\txt};
    \draw[arr] (dnsal\i.east) ++(1,0) -- (dnsal\i.east -| dnsa1.west);
  }
  \node[font=\bfseries\fs{14}, anchor=west] (dns2title) at (1554,624.9) {DNS};
  \node[font=\bfseries\fs{14}, anchor=west] (dns2sub) at (1555.5,633.6) {- re};
  \foreach [count=\i] \ya/\yb in {641.8/680, 680/717.9, 717.9/755, 755/792.5, 792.5/830.5, 830.5/870}
    \node[yebox, fit={(1554.7,\ya) (1600,\yb)}] (dnsb\i) {};
  \node[font=\fs{10}, anchor=west] (dnsbtr) at (1562.5,660) {Tra};
  \node[font=\fs{20}, rotate=90] (dnsbfl) at (1564.8,699) {Flags};
  \foreach [count=\i] \yy/\txt in {660.7/{'udp[8:2]=0x8d32'}, 697.9/{'udp[10:2]=0'}, 735.7/{'udp[12:2]=0'},
      773.5/{'udp[14:2]=0'}, 811.4/{'udp[16:2]=0'}} {
    \node[font=\fs{10.5}, anchor=east] (dnsbl\i) at (1535.5,\yy) {\txt};
    \draw[arr] (dnsbl\i.east) ++(3,0) -- (dnsbl\i.east -| dnsb1.west);
  }
\end{tikzpicture}
\end{document}
